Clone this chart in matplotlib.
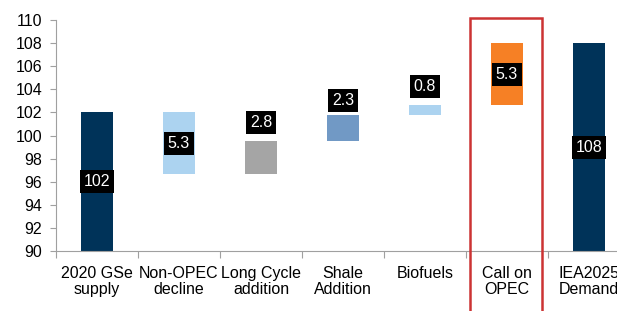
import numpy as np
import matplotlib
matplotlib.use("Agg")
import matplotlib.pyplot as plt
from matplotlib.patches import Rectangle

plt.rcParams["font.family"] = ["Liberation Sans", "DejaVu Sans"]

# data
categories = ["2020 GSe\nsupply", "Non-OPEC\ndecline", "Long Cycle\naddition",
              "Shale\nAddition", "Biofuels", "Call on\nOPEC", "IEA2025\nDemand"]
bottoms = [90, 96.7, 96.7, 99.5, 101.8, 102.6, 90]
tops = [102, 102, 99.5, 101.8, 102.6, 108, 108]
labels = ["102", "5.3", "2.8", "2.3", "0.8", "5.3", "108"]
label_y = [96, 99.35, 101.1, 103.0, 104.2, 105.3, 99]
colors = ["#003359", "#acd3f0", "#a5a5a5", "#7199c5", "#acd3f0", "#f68025", "#003359"]

fig = plt.figure(figsize=(6.17, 3.11), dpi=100)
ax = fig.add_axes([56 / 617, 1 - 251 / 311, 574 / 617, 231 / 311])

x = np.arange(len(categories)) + 0.5
heights = np.array(tops) - np.array(bottoms)
ax.bar(x, heights, bottom=bottoms, width=0.39, color=colors, zorder=2)

for xi, yi, lab in zip(x, label_y, labels):
    ax.text(xi, yi, lab, ha="center", va="center", color="white", fontsize=11.5,
            bbox=dict(boxstyle="square,pad=0.25", fc="black", ec="none"), zorder=3)

ax.set_xlim(0, 7)
ax.set_ylim(90, 110)
ax.set_yticks(np.arange(90, 111, 2))
ax.tick_params(axis="y", labelsize=11.5, length=4, color="#a0a0a0", pad=6)
ax.set_xticks(np.arange(0, 8))
ax.set_xticklabels([])
ax.tick_params(axis="x", which="major", length=5, color="#a0a0a0")
ax.set_xticks(x, minor=True)
ax.set_xticklabels(categories, minor=True, fontsize=11.5, linespacing=1.05)
ax.tick_params(axis="x", which="minor", length=0, pad=11)

for s in ["top", "right"]:
    ax.spines[s].set_visible(False)
for s in ["left", "bottom"]:
    ax.spines[s].set_color("#a0a0a0")

# highlight box around "Call on OPEC"
ax.add_patch(Rectangle((5.05, 84.5), 0.88, 25.65, fill=False, ec="#cc3333",
                       lw=1.8, clip_on=False, zorder=4))

fig.savefig("out.png", dpi=100)
